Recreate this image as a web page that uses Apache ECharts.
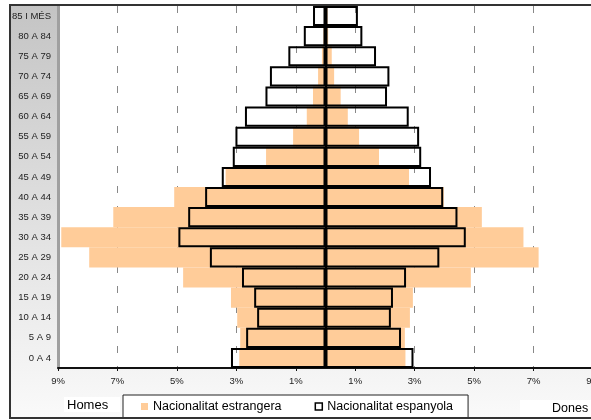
<!DOCTYPE html>
<html>
<head>
<meta charset="utf-8">
<script src="https://cdn.jsdelivr.net/npm/echarts@6/dist/echarts.min.js"></script>
<style>
    html, body { margin: 0; padding: 0; background: #fff; }
    #chart { width: 591px; height: 420px; }
</style>
</head>
<body>
<div id="chart"></div>
<script>
// age groups, top of the pyramid first
const categories = ['85 I MÉS', '80 A 84', '75 A 79', '70 A 74', '65 A 69', '60 A 64', '55 A 59', '50 A 54', '45 A 49',
    '40 A 44', '35 A 39', '30 A 34', '25 A 29', '20 A 24', '15 A 19', '10 A 14', '5 A 9', '0 A 4'];

// % of each population
const menForeign = [0.04, 0.07, 0.12, 0.25, 0.42, 0.63, 1.09, 2.0, 3.36, 5.09, 7.14, 8.89, 7.95, 4.79, 3.18, 2.97, 2.87, 2.9];
const womenForeign = [0.07, 0.09, 0.21, 0.29, 0.51, 0.75, 1.13, 1.8, 2.81, 3.98, 5.26, 6.66, 7.17, 4.89, 2.94, 2.84, 2.67, 2.69];
const menSpanish = [0.42, 0.73, 1.25, 1.87, 2.02, 2.71, 3.03, 3.12, 3.49, 4.05, 4.62, 4.95, 3.89, 2.81, 2.4, 2.3, 2.67, 3.18];
const womenSpanish = [1.09, 1.24, 1.7, 2.15, 2.07, 2.8, 3.15, 3.22, 3.55, 3.96, 4.44, 4.72, 3.83, 2.71, 2.27, 2.2, 2.54, 2.96];

const FONT = 'Liberation Sans, Arial, sans-serif';
const ORANGE = '#ffcc99';

const chart = echarts.init(document.getElementById('chart'));

const foreignStyle = { color: ORANGE };
const spanishStyle = { color: 'rgba(0,0,0,0)', borderColor: '#000', borderWidth: 2 };

const barBase = {
    type: 'bar',
    barWidth: '100%',
    barGap: '-100%',
    silent: true
};

const option = {
    animation: false,
    graphic: [
        {
            type: 'rect', z: -10,
            shape: { x: 10, y: 5, width: 585, height: 413 },
            style: {
                fill: {
                    type: 'linear', x: 0, y: 0, x2: 0, y2: 1,
                    colorStops: [{ offset: 0, color: '#c4c4c4' }, { offset: 1, color: '#fafafa' }]
                }
            }
        },
        { type: 'rect', z: 5, shape: { x: 10, y: 5, width: 600, height: 413 }, style: { fill: null, stroke: '#333', lineWidth: 2 } },
        { type: 'rect', z: 4, shape: { x: 64, y: 397, width: 56, height: 15 }, style: { fill: '#fff' } },
        { type: 'text', z: 6, left: 67, top: 399, style: { text: 'Homes', font: '13px ' + FONT, fill: '#000' } },
        { type: 'rect', z: 4, shape: { x: 520, y: 400, width: 80, height: 17 }, style: { fill: '#fff' } },
        { type: 'text', z: 6, left: 552, top: 402, style: { text: 'Dones', font: '12.5px ' + FONT, fill: '#000' } }
    ],
    legend: {
        left: 123,
        top: 395,
        padding: [5, 15, 5, 18],
        itemWidth: 7,
        itemHeight: 7,
        itemGap: 33,
        backgroundColor: '#fff',
        borderColor: '#222',
        borderWidth: 1,
        textStyle: { fontFamily: FONT, fontSize: 12.5, color: '#000' },
        data: [
            { name: 'Nacionalitat estrangera', icon: 'rect' },
            { name: 'Nacionalitat espanyola', icon: 'rect', itemStyle: { color: '#fff', borderColor: '#000', borderWidth: 1.5 } }
        ]
    },
    grid: {
        left: 58, right: -2, top: 6, bottom: 52,
        outerBoundsMode: 'none',
        show: true, backgroundColor: '#fff', borderWidth: 0
    },
    xAxis: {
        type: 'value',
        min: -9,
        max: 9,
        interval: 2,
        axisLine: { show: true, onZero: false, lineStyle: { color: '#111', width: 2 } },
        axisTick: { show: true, length: 3, lineStyle: { color: '#111' } },
        axisLabel: {
            formatter: v => Math.abs(v) + '%',
            fontFamily: FONT, fontSize: 9.5, color: '#222', margin: 8
        },
        splitLine: { show: true, lineStyle: { type: [7, 13], color: '#888', width: 1 } }
    },
    yAxis: {
        type: 'category',
        inverse: true,
        data: categories,
        axisLine: { show: true, onZero: false, lineStyle: { color: '#a0a0a0', width: 3 } },
        axisTick: { show: false },
        axisLabel: { fontFamily: FONT, fontSize: 9.5, color: '#222', margin: 7 }
    },
    series: [
        { ...barBase, name: 'Nacionalitat estrangera', itemStyle: foreignStyle, data: menForeign.map(v => -v) },
        { ...barBase, name: 'Nacionalitat estrangera', itemStyle: foreignStyle, data: womenForeign },
        { ...barBase, name: 'Nacionalitat espanyola', itemStyle: spanishStyle, data: menSpanish.map(v => -v) },
        {
            ...barBase, name: 'Nacionalitat espanyola', itemStyle: spanishStyle, data: womenSpanish,
            markLine: {
                silent: true,
                symbol: 'none',
                label: { show: false },
                lineStyle: { color: '#000', width: 2, type: 'solid' },
                data: [{ xAxis: 0 }]
            }
        }
    ]
};

chart.setOption(option);
</script>
</body>
</html>
